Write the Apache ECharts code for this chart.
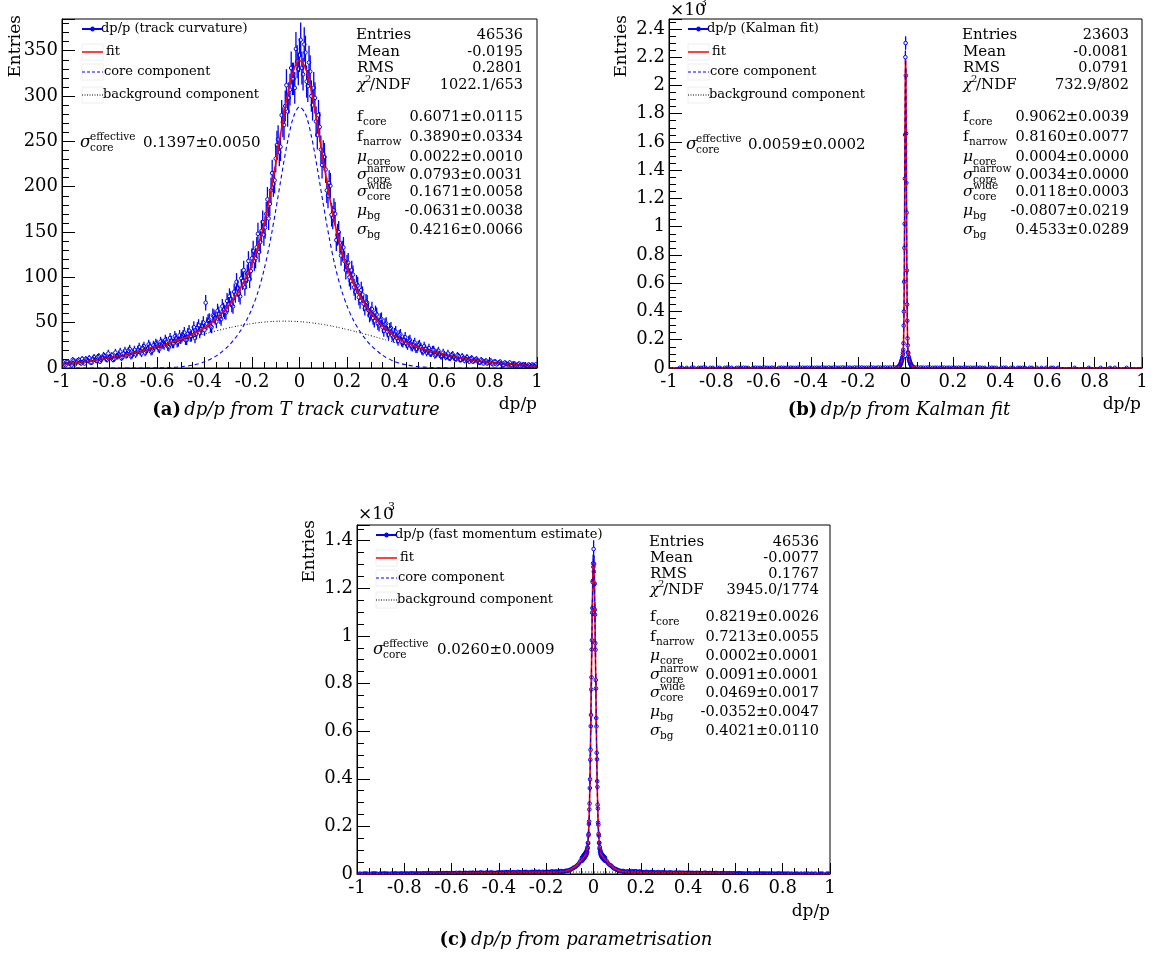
<!DOCTYPE html>
<html><head><meta charset="utf-8">
<script src="https://cdn.jsdelivr.net/npm/echarts@6.0.0/dist/echarts.min.js"></script>
<style>html,body{margin:0;padding:0;background:#fff}#c{width:1155px;height:958px}</style>
</head><body><div id="c"></div>
<script>
// ---------------- DATA ----------------
// Panel (a): track curvature. Two interleaved sets of bins: centres from -0.995 and from -0.99, step 0.01
const A_BIN0 = -0.995, A_BIN0B = -0.99, A_DX = 0.01;
const aCounts = [6,3,7,5,9,4,8,6,10,5,
9,11,6,12,8,13,9,14,10,16,
12,9,17,13,18,12,19,15,21,14,
20,17,23,16,24,19,26,18,25,27,
22,29,26,31,24,33,27,35,28,36,
34,39,31,41,35,45,38,47,43,50,
72,52,46,58,55,63,56,68,62,74,
79,70,84,95,82,99,108,97,118,107,
129,121,148,139,161,155,186,181,215,207,
246,238,279,268,312,298,331,319,352,330,
362,324,348,311,327,290,298,257,266,224,
233,196,204,169,174,141,150,124,133,108,
116,96,103,84,91,74,81,66,72,58,
65,52,59,47,54,41,49,37,44,34,
40,30,37,28,34,25,31,23,28,21,
26,19,24,17,22,16,20,15,19,13,
17,12,16,11,15,10,14,9,13,8,
12,7,11,8,10,6,9,5,8,6,
8,4,7,5,7,3,6,4,6,3,
5,2,5,3,4,2,4,2,3,4];
const aCountsB = [4,7,5,3,8,6,9,5,7,10,
8,6,10,9,12,7,11,13,9,12,
14,10,13,15,11,16,14,19,13,17,
15,20,18,22,17,21,24,19,23,26,
21,27,25,29,23,30,27,33,29,32,
36,31,38,35,40,33,44,39,46,42,
49,53,45,57,51,60,54,64,61,70,
76,68,81,88,79,96,89,104,98,121,
118,133,128,151,147,170,165,196,203,231,
252,244,271,289,283,307,319,309,338,345,
331,357,316,337,300,309,272,279,241,236,
219,190,201,166,170,147,138,129,118,114,
100,108,89,93,78,86,71,73,64,60,
55,61,49,53,45,48,40,43,36,38,
33,36,29,31,27,30,24,26,21,25,
23,18,21,19,16,20,14,17,15,13,
15,13,11,14,12,10,13,9,11,10,
9,10,7,9,8,6,8,7,5,7,
5,7,4,6,5,3,5,4,3,5,
3,4,2,4,3,2,3,4,2];
const aFitX = [-1,-0.95,-0.9,-0.85,-0.8,-0.75,-0.7,-0.65,-0.6,-0.55,-0.5,-0.45,-0.4,-0.35,-0.3,
-0.275,-0.25,-0.225,-0.2,-0.175,-0.15,-0.125,-0.1,-0.075,-0.05,-0.025,0,0.025,0.05,0.075,0.1,0.125,0.15,0.175,0.2,0.225,0.25,0.275,
0.3,0.35,0.4,0.45,0.5,0.55,0.6,0.65,0.7,0.75,0.8,0.85,0.9,0.95,1];
const aFit = [4.4,5.65,7.2,9.06,11.2,13.7,16.5,19.7,23.2,27.1,31.6,37.1,44.4,54.4,68.3,
77.0,87.3,99.6,114.6,133.7,158.1,188.9,225.6,265.1,301.8,328.7,339.2,330.9,305.7,269.3,228.9,190.6,157.8,131.6,111.0,94.7,81.5,70.4,
61.0,46.1,35.5,28.05,22.65,18.5,15.2,12.4,10.07,8.05,6.36,4.95,3.81,2.88,2.15];
const aCore = [0,0,0,0,0.001,0.005,0.018,0.06,0.19,0.52,1.35,3.16,6.79,13.37,24.1,
31.5,40.5,51.6,65.6,83.7,107.5,137.7,174.1,213.4,250.1,277.2,288.1,280.4,255.9,220.3,180.9,143.8,112.3,87.5,68.5,53.8,42.2,32.9,
25.3,14.1,7.24,3.4,1.46,0.57,0.2,0.07,0,0,0,0,0,0,0];
const aBg = [4.38,5.65,7.21,9.06,11.22,13.71,16.52,19.62,22.98,26.54,30.22,33.93,37.57,41.01,44.15,
45.56,46.86,48.02,49.04,49.91,50.61,51.15,51.5,51.68,51.67,51.49,51.13,50.58,49.87,49.0,47.97,46.8,45.5,44.08,42.55,40.94,39.24,37.48,
35.68,31.99,28.28,24.65,21.19,17.96,15.01,12.37,10.05,8.05,6.36,4.95,3.81,2.88,2.15];

// Panel (b): Kalman fit. Peak bins (width 0.001) from -0.0295; tail sample bins (step 0.01) from -0.995
const B_PEAK0 = -0.0295, B_PDX = 0.001;
const bPeak = [9,6,12,10,17,13,22,19,30,26,38,35,49,46,60,57,75,70,94,108,
130,175,300,400,610,850,1020,1340,1650,2200,
2300,2070,1660,1310,1100,690,450,335,210,160,
112,104,80,79,62,65,50,52,40,41,30,32,22,24,16,18,11,14,8,10];
const B_TAIL0 = -0.995, B_TDX = 0.01;
const bTail = [null,null,null,null,1,1,null,1,null,1,
1,null,1,1,2,1,null,1,1,null,
1,1,null,1,2,1,1,null,1,1,
1,2,1,1,null,1,2,1,1,1,
2,1,1,2,1,null,1,2,1,1,
1,2,1,1,2,1,2,1,2,1,
2,1,2,1,2,2,1,3,1,2,
2,1,2,3,1,2,2,1,3,2,
2,3,1,2,2,3,2,1,3,2,
2,3,2,3,2,3,4,null,null,null,
null,null,null,4,3,2,3,2,2,3,
2,1,2,2,1,3,2,1,2,1,
2,1,2,1,1,2,1,2,1,1,
1,2,1,1,null,1,2,1,1,null,
1,1,2,null,1,1,null,1,1,1,
1,null,1,1,null,1,null,1,null,1,
null,1,1,null,1,null,null,null,null,null,
null,1,null,null,null,null,null,1,null,null,
null,null,1,null,null,null,1,null,1,null,
null,null,null,1,null,null,null,null,null,null];
const bFitX = [-1,-0.6,-0.3,-0.1,-0.0496,-0.0396,-0.0296,-0.0246,-0.0196,-0.0176,-0.0156,-0.0136,-0.0116,
-0.0096,-0.0086,-0.0076,-0.0066,-0.0056,-0.0046,-0.0036,-0.0026,-0.0016,-0.0006,0.0004,
0.0014,0.0024,0.0034,0.0044,0.0054,0.0064,0.0074,0.0084,0.0094,0.0104,
0.0124,0.0144,0.0164,0.0184,0.0204,0.0254,0.0304,0.0404,0.0504,0.1,0.3,0.6,1];
const bFit = [0.3,1.0,1.8,2.0,2.0,2.4,7.2,16,33.5,43.5,55,68,85,
122,163,236,359,550,818,1153,1519,1855,2096,2183,
2096,1855,1519,1153,818,550,359,236,163,122,
85,68,55,43.5,33.5,16,7.2,2.4,2.0,1.9,1.6,0.7,0.2];
const bCore = [0,0,0,0,0,0.4,5.2,14,31.5,41.5,53,66,83,
120,161,234,357,548,816,1151,1517,1853,2094,2181,
2094,1853,1517,1151,816,548,357,234,161,120,
83,66,53,41.5,31.5,14,5.2,0.4,0,0,0,0,0];
const bBgX = [-1,-0.8,-0.6,-0.4,-0.2,-0.08,0,0.2,0.4,0.6,0.8,1];
const bBg = [0.25,0.6,1.0,1.5,1.86,1.95,1.93,1.7,1.2,0.72,0.37,0.17];

// Panel (c): parametrisation. Peak bins (width 0.001) from -0.0495; two interleaved tail samples
const C_PEAK0 = -0.0495, C_PDX = 0.001;
const cPeak = [66,55,70,58,72,61,75,63,79,66,80,68,83,71,86,74,89,77,93,81,
95,86,104,92,112,108,131,129,162,168,210,221,271,296,361,398,480,522,621,668,
775,826,943,982,1098,1117,1226,1232,1305,1290,
1365,1270,1302,1218,1220,1110,1089,970,942,815,779,655,620,509,482,390,366,291,275,216,
207,168,161,130,132,106,113,93,101,84,94,79,88,74,84,70,81,68,79,65,
77,63,74,61,72,59,70,57,68,55];
const C_TAIL0 = -0.995, C_TAIL0B = -0.99, C_TDX = 0.01;
const cTail = [null,1,1,2,1,null,1,2,1,1,
1,2,1,1,2,1,2,1,2,1,
2,1,2,2,1,3,2,1,2,3,
2,3,2,1,3,2,4,3,2,3,
4,3,2,5,3,4,3,5,4,3,
5,4,6,4,5,3,6,5,4,6,
5,7,6,5,8,6,7,5,8,6,
7,9,6,8,7,10,8,7,9,8,
9,8,11,9,10,8,12,10,13,15,
19,26,31,40,55,null,null,null,null,null,
null,null,null,null,null,56,41,35,24,21,
16,12,13,9,11,8,10,12,9,11,
8,7,9,6,8,7,5,8,6,7,
6,5,7,5,6,4,6,5,4,5,
5,4,3,5,4,3,4,5,3,4,
3,4,3,2,4,3,2,3,2,3,
2,3,2,2,1,3,2,1,2,2,
1,2,2,1,1,2,1,1,2,1,
1,1,2,1,null,1,1,1,null,1,
1,null,1,1,null,1,1,null,1,1];
const cTailB = [1,null,1,1,null,1,2,1,null,1,
1,2,1,null,1,2,1,1,2,1,
2,1,3,2,2,1,2,3,2,1,
3,2,2,4,3,2,3,4,3,2,
3,5,4,3,4,5,3,4,6,4,
4,6,5,4,7,5,6,4,5,7,
6,5,8,7,5,7,6,9,7,6,
8,7,6,9,8,7,10,7,8,9,
8,10,9,11,9,12,11,13,14,17,
22,28,36,47,null,null,null,null,null,null,
null,null,null,null,null,47,37,29,22,17,
14,12,11,10,9,12,10,11,9,8,
7,8,6,7,8,6,7,5,6,6,
5,6,5,4,6,5,4,5,4,5,
4,5,3,4,4,3,5,3,4,3,
3,4,2,3,3,2,3,3,2,2,
2,3,2,1,2,2,1,2,2,1,
2,1,1,2,1,1,1,2,1,1,
1,1,null,1,1,1,null,1,1,null,
1,1,null,1,null,1,1,null,1];
const cFitX = [-1,-0.8,-0.6,-0.4,-0.3,
-0.1998,-0.1498,-0.1198,-0.0998,-0.0798,-0.0598,-0.0498,-0.0398,-0.0348,-0.0298,-0.0248,
-0.0198,-0.0178,-0.0158,-0.0138,-0.0118,-0.0098,-0.0078,-0.0058,-0.0038,-0.0018,0.0002,
0.0022,0.0042,0.0062,0.0082,0.0102,0.0122,0.0142,0.0162,0.0182,0.0202,
0.0252,0.0302,0.0352,0.0402,0.0502,0.0602,0.0802,0.1002,0.1202,0.1502,0.2002,
0.3,0.4,0.6,0.8,1];
const cFit = [0.46,1.35,3.06,5.44,6.62,
7.56,8.4,11.4,17.4,29.4,48.2,59.7,71.2,77.7,87.2,115,
199,263,352,465,603,758,919,1071,1197,1279,1308,
1279,1197,1071,919,758,603,465,352,263,199,
115,87,77.5,71,59.5,48,29,17,11.1,7.9,6.9,
5.81,4.57,2.36,0.95,0.3];
const cCore = [0,0,0,0,0,
0,0.54,3.44,9.34,21.2,40,51.4,63,69.3,79.2,106.5,
190.8,255.2,343.5,456.7,594.7,749.6,911.4,1062.9,1188.3,1271.2,1300.2,
1271.2,1188.3,1062.9,911.4,749.6,594.7,456.7,343.5,255.2,190.8,
106.5,79.2,69.3,63,51.4,40,21.2,9.34,3.44,0.54,0,
0,0,0,0,0];
const cBgX = [-1,-0.8,-0.6,-0.4,-0.2,-0.0352,0.2,0.4,0.6,0.8,1];
const cBg = [0.46,1.35,3.06,5.44,7.56,8.22,6.92,4.57,2.36,0.95,0.3];

// Tick / text content
const X_TICK_STEP = 0.2;
const STAT_NAMES = ['Entries','Mean','RMS'];
const aStatTop = ['46536','-0.0195','0.2801','1022.1/653'];
const bStatTop = ['23603','-0.0081','0.0791','732.9/802'];
const cStatTop = ['46536','-0.0077','0.1767','3945.0/1774'];
const PARAM_LABELS = [['f','core',''],['f','narrow',''],['μ','core',''],['σ','core','narrow'],['σ','core','wide'],['μ','bg',''],['σ','bg','']];
const aParams = ['0.6071±0.0115','0.3890±0.0334','0.0022±0.0010','0.0793±0.0031','0.1671±0.0058','-0.0631±0.0038','0.4216±0.0066'];
const bParams = ['0.9062±0.0039','0.8160±0.0077','0.0004±0.0000','0.0034±0.0000','0.0118±0.0003','-0.0807±0.0219','0.4533±0.0289'];
const cParams = ['0.8219±0.0026','0.7213±0.0055','0.0002±0.0001','0.0091±0.0001','0.0469±0.0017','-0.0352±0.0047','0.4021±0.0110'];
const aSigEff = '0.1397±0.0050', bSigEff = '0.0059±0.0002', cSigEff = '0.0260±0.0009';
const aDataName = 'dp/p (track curvature)', bDataName = 'dp/p (Kalman fit)', cDataName = 'dp/p (fast momentum estimate)';
const LEG_NAMES = ['fit','core component','background component'];

// ---------------- HELPERS ----------------
const FONT = 'DejaVu Serif';
const BLUE = '#0000ff', RED = '#ff0000';

function bins(x0, dx, counts) {
  const out = [];
  counts.forEach((c, i) => { if (c !== null && c !== undefined) out.push([x0 + i * dx, c, Math.sqrt(c)]); });
  return out;
}
function pairs(xs, ys) { return xs.map((x, i) => [x, ys[i]]); }

function renderErr(params, api) {
  const x = api.value(0), y = api.value(1), e = api.value(2);
  const p = api.coord([x, y]);
  const t = api.coord([x, y + e]);
  const b = api.coord([x, Math.max(y - e, 0)]);
  const r = 1.8;
  const ch = [];
  const ls = { stroke: BLUE, lineWidth: 1.3 };
  if (b[1] - p[1] > r) ch.push({ type: 'line', shape: { x1: p[0], y1: p[1] + r, x2: p[0], y2: b[1] }, style: ls });
  if (p[1] - t[1] > r) ch.push({ type: 'line', shape: { x1: p[0], y1: t[1], x2: p[0], y2: p[1] - r }, style: ls });
  ch.push({ type: 'circle', shape: { cx: p[0], cy: p[1], r: r }, style: { fill: 'transparent', stroke: BLUE, lineWidth: 1 } });
  return { type: 'group', children: ch };
}

function xAx(gi) {
  return {
    type: 'value', gridIndex: gi, min: -1, max: 1, interval: X_TICK_STEP,
    axisLine: { onZero: false, lineStyle: { color: '#000', width: 1 } },
    axisTick: { inside: true, length: 11, lineStyle: { color: '#000' } },
    minorTick: { show: true, splitNumber: 4, length: 6, lineStyle: { color: '#000' } },
    splitLine: { show: false }, minorSplitLine: { show: false },
    axisLabel: { fontFamily: FONT, fontSize: 18, color: '#000', margin: 5, showMinLabel: true, showMaxLabel: true }
  };
}
function yAx(gi, max, step, minorN, fmt) {
  return {
    type: 'value', gridIndex: gi, min: 0, max: max, interval: step,
    axisLine: { onZero: false, lineStyle: { color: '#000', width: 1 } },
    axisTick: { inside: true, length: 13, lineStyle: { color: '#000' } },
    minorTick: { show: true, splitNumber: minorN, length: 7, lineStyle: { color: '#000' } },
    splitLine: { show: false }, minorSplitLine: { show: false },
    axisLabel: { fontFamily: FONT, fontSize: 18, color: '#000', margin: 4, formatter: fmt }
  };
}

function txt(x, y, s, size, align, extra) {
  return { type: 'text', x: x, y: y, z: 100, silent: true,
    style: Object.assign({ text: s, fontFamily: FONT, fontSize: size, fill: '#000',
      align: align || 'left', verticalAlign: 'middle' }, extra || {}) };
}

function glyphWidth(m) { return m === 'f' ? 6 : 10; }

function symbolLabel(els, x, y, main, sub, sup, size) {
  const it = (main === 'f') ? {} : { fontStyle: 'italic' };
  els.push(txt(x, y, main, size, 'left', it));
  const w = glyphWidth(main);
  if (sub) els.push(txt(x + w, y + 5, sub, 10.5));
  if (sup) els.push(txt(x + w, y - 6, sup, 10.5));
}

function statsBox(els, nx, vr, topY, parY, top, par) {
  for (let i = 0; i < 3; i++) {
    els.push(txt(nx + (i ? 1 : 0), topY[i], STAT_NAMES[i], 15));
    els.push(txt(vr, topY[i], top[i], 14.5, 'right'));
  }
  els.push(txt(nx + 1, topY[3], 'χ', 15, 'left', { fontStyle: 'italic' }));
  els.push(txt(nx + 9, topY[3] - 6, '2', 10));
  els.push(txt(nx + 14, topY[3], '/NDF', 15));
  els.push(txt(vr, topY[3], top[3], 14.5, 'right'));
  for (let j = 0; j < PARAM_LABELS.length; j++) {
    const L = PARAM_LABELS[j];
    symbolLabel(els, nx + 1, parY[j], L[0], L[1], L[2], 15.5);
    els.push(txt(vr, parY[j], par[j], 14.5, 'right'));
  }
}

function sigEff(els, x, y, vx, val) {
  symbolLabel(els, x, y, 'σ', 'core', 'effective', 16.5);
  els.push(txt(vx, y, val, 15));
}

function legendBox(els, x0, x1, tx, rows, dataName) {
  els.push({ type: 'line', z: 101, shape: { x1: x0, y1: rows[0], x2: x1, y2: rows[0] }, style: { stroke: BLUE, lineWidth: 2 } });
  els.push({ type: 'circle', z: 101, shape: { cx: (x0 + x1) / 2, cy: rows[0], r: 2 }, style: { fill: BLUE, stroke: BLUE } });
  els.push(txt(tx - 2, rows[0], dataName, 13));
  for (let k = 1; k < 4; k++) {
    els.push({ type: 'rect', z: 99, shape: { x: x0, y: rows[k] - 8, width: x1 - x0, height: 16 }, style: { fill: 'none', stroke: '#eeeeee', lineWidth: 1 } });
  }
  els.push({ type: 'line', z: 101, shape: { x1: x0, y1: rows[1], x2: x1, y2: rows[1] }, style: { stroke: RED, lineWidth: 1.5 } });
  els.push(txt(tx + 3, rows[1], LEG_NAMES[0], 13));
  els.push({ type: 'line', z: 101, shape: { x1: x0, y1: rows[2], x2: x1, y2: rows[2] }, style: { stroke: BLUE, lineWidth: 1.2, lineDash: [3, 2] } });
  els.push(txt(tx + 1, rows[2], LEG_NAMES[1], 13));
  els.push({ type: 'line', z: 101, shape: { x1: x0, y1: rows[3], x2: x1, y2: rows[3] }, style: { stroke: '#000', lineWidth: 1, lineDash: [1, 1.5] } });
  els.push(txt(tx, rows[3], LEG_NAMES[2], 13));
}

function caption(els, cx, y, letter, rest) {
  els.push({ type: 'text', x: cx, y: y, z: 100, style: {
    text: '{b|(' + letter + ')} {i|' + rest + '}', align: 'center', verticalAlign: 'middle',
    rich: { b: { fontFamily: FONT, fontSize: 18, fontWeight: 'bold', fill: '#000' },
            i: { fontFamily: FONT, fontSize: 18, fontStyle: 'italic', fill: '#000' } } } });
}

function yTitle(els, x, yTop) {
  els.push({ type: 'text', x: x, y: yTop, rotation: Math.PI / 2, z: 100,
    style: { text: 'Entries', fontFamily: FONT, fontSize: 17, fill: '#000', align: 'right', verticalAlign: 'middle' } });
}
function times10(els, x, y) {
  els.push(txt(x, y, '×10', 17));
  els.push(txt(x + 30, y - 8, '3', 11));
}

// ---------------- OPTION ----------------
const chart = echarts.init(document.getElementById('c'), null, { renderer: 'canvas' });

const grids = [
  { left: 62, top: 19, width: 475, height: 349 },
  { left: 669, top: 19, width: 473, height: 349 },
  { left: 357, top: 525, width: 473, height: 349 }
].map(g => Object.assign({ show: true, borderColor: '#000', borderWidth: 1, backgroundColor: 'transparent' }, g));

const fmtA = v => (Math.abs(v % 50) < 1e-6 ? String(v) : '');
const fmtK = v => (Math.abs(v % 200) < 1e-6 ? String(+(v / 1000).toFixed(1)) : '');

function panelSeries(gi, dataName, dataPts, fitX, fit, coreX, core, bgX, bg, smooth) {
  return [
    { name: dataName, type: 'custom', xAxisIndex: gi, yAxisIndex: gi, renderItem: renderErr,
      encode: { x: 0, y: 1 }, data: dataPts, clip: true, z: 2, animation: false },
    { name: 'fit', type: 'line', xAxisIndex: gi, yAxisIndex: gi, data: pairs(fitX, fit), showSymbol: false,
      smooth: smooth, lineStyle: { color: RED, width: 1.6 }, itemStyle: { color: RED }, z: 3, clip: true },
    { name: 'core component', type: 'line', xAxisIndex: gi, yAxisIndex: gi, data: pairs(coreX, core), showSymbol: false,
      smooth: smooth, lineStyle: { color: BLUE, width: 1.1, type: [4, 3] }, itemStyle: { color: BLUE }, z: 4, clip: true },
    { name: 'background component', type: 'line', xAxisIndex: gi, yAxisIndex: gi, data: pairs(bgX, bg), showSymbol: false,
      smooth: true, lineStyle: { color: '#000', width: 1, type: [1, 2] }, itemStyle: { color: '#000' }, z: 4, clip: true }
  ];
}

const aData = bins(A_BIN0, A_DX, aCounts).concat(bins(A_BIN0B, A_DX, aCountsB));
const bData = bins(B_TAIL0, B_TDX, bTail).concat(bins(B_PEAK0, B_PDX, bPeak));
const cData = bins(C_TAIL0, C_TDX, cTail).concat(bins(C_TAIL0B, C_TDX, cTailB), bins(C_PEAK0, C_PDX, cPeak));

const series = [].concat(
  panelSeries(0, aDataName, aData, aFitX, aFit, aFitX, aCore, aFitX, aBg, 0.3),
  panelSeries(1, bDataName, bData, bFitX, bFit, bFitX, bCore, bBgX, bBg, false),
  panelSeries(2, cDataName, cData, cFitX, cFit, cFitX, cCore, cBgX, cBg, false)
);

const els = [];
// Panel a texts
legendBox(els, 82, 103, 103, [29, 52, 72, 95], aDataName);
statsBox(els, 356, 523, [35, 52, 68, 85], [117, 137, 157, 175, 192, 211, 230], aStatTop, aParams);
sigEff(els, 80, 143, 143, aSigEff);
yTitle(els, 16, 15);
els.push(txt(537, 405, 'dp/p', 17, 'right'));
caption(els, 296, 410, 'a', 'dp/p from T track curvature');
// Panel b texts
legendBox(els, 688, 709, 709, [29, 52, 72, 95], bDataName);
statsBox(els, 962, 1129, [35, 52, 68, 85], [117, 137, 157, 175, 192, 211, 230], bStatTop, bParams);
sigEff(els, 686, 145, 748, bSigEff);
yTitle(els, 622, 15);
times10(els, 670, 11);
els.push(txt(1141, 405, 'dp/p', 17, 'right'));
caption(els, 899, 410, 'b', 'dp/p from Kalman fit');
// Panel c texts
legendBox(els, 376, 397, 397, [535, 558, 578, 600], cDataName);
statsBox(els, 649, 819, [542, 558, 574, 590], [617, 637, 656, 675, 693, 712, 731], cStatTop, cParams);
sigEff(els, 373, 650, 437, cSigEff);
yTitle(els, 310, 520);
times10(els, 358, 515);
els.push(txt(830, 912, 'dp/p', 17, 'right'));
caption(els, 576, 940, 'c', 'dp/p from parametrisation');

chart.setOption({
  animation: false,
  backgroundColor: '#ffffff',
  grid: grids,
  xAxis: [xAx(0), xAx(1), xAx(2)],
  yAxis: [yAx(0, 385, 50, 5, fmtA), yAx(1, 2470, 200, 4, fmtK), yAx(2, 1466, 200, 4, fmtK)],
  series: series,
  graphic: els
});
</script></body></html>
